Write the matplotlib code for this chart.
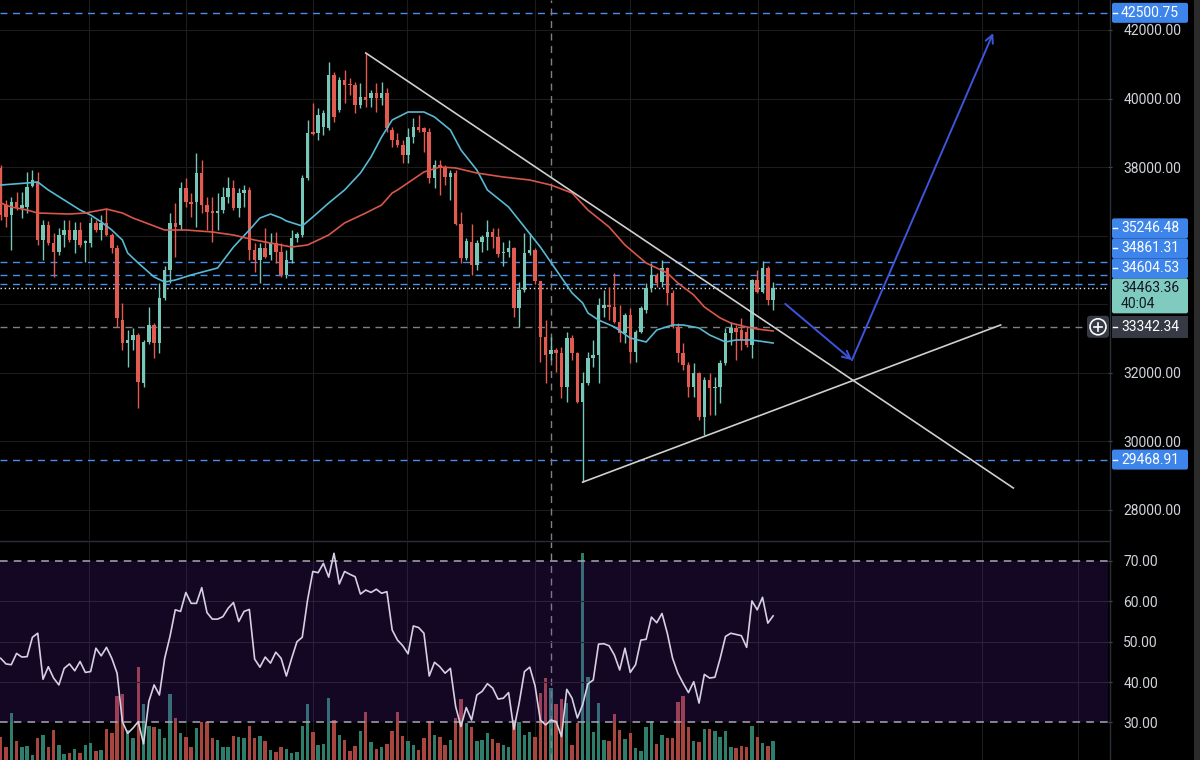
import matplotlib
matplotlib.use('Agg')
from matplotlib import pyplot as plt
from matplotlib.patches import Rectangle, FancyBboxPatch, Circle
import numpy as np

# ---- candles (BTC/USD, 147 bars) ----
opens = [37975, 36895, 36600, 36980, 36810, 36840, 37450, 37570, 35870, 36310,
         35790, 35530, 36020, 36170, 35870, 36170, 35790, 35790, 36370, 36170,
         36370, 36020, 35640, 33540, 32870, 32960, 33100, 31700, 32900, 33400,
         32870, 34180, 35000, 36370, 36310, 37390, 36980, 36980, 37830, 36900,
         36720, 36660, 36750, 37130, 37390, 36810, 37245, 37330, 35580, 35290,
         35640, 35440, 35790, 35530, 34850, 35290, 35930, 36020, 37680, 39025,
         39000, 39170, 39140, 40690, 39670, 40540, 40420, 40400, 39810, 40045,
         40020, 40160, 40020, 40160, 39080, 38790, 38650, 38350, 38880, 39170,
         39140, 39025, 37680, 38060, 37975, 37710, 37830, 36340, 35350, 35820,
         35145, 35820, 35960, 36110, 35960, 35495, 35530, 35640, 33890, 34420,
         35495, 35580, 34680, 33045, 32550, 32670, 32580, 31590, 33015, 32580,
         31150, 31700, 32430, 32520, 33890, 33980, 33920, 33480, 33160, 33690,
         32610, 33190, 33830, 34470, 34850, 34650, 35060, 34330, 33340, 32580,
         32230, 31590, 31995, 30710, 31790, 31560, 31590, 32290, 33160, 33310,
         33250, 33190, 32810, 34710, 34360, 35060, 34120]
highs = [38060, 37040, 37130, 37275, 37275, 37860, 37920, 37860, 36460, 36430,
         36080, 36225, 36460, 36460, 36400, 36400, 35870, 36545, 36460, 36600,
         36780, 36080, 35730, 34040, 33250, 33310, 33160, 32960, 33920, 33450,
         34620, 35120, 36660, 36950, 37570, 37680, 37245, 38410, 38210, 37130,
         37130, 37245, 37420, 37710, 37620, 37390, 37480, 37420, 35790, 35790,
         36225, 36080, 36110, 35790, 35580, 36170, 36110, 37770, 39375, 39870,
         39725, 39670, 41070, 40775, 40630, 40830, 40600, 40480, 40450, 41330,
         40250, 40450, 40480, 40310, 39170, 39000, 38790, 39140, 39430, 39520,
         39170, 39140, 38210, 38210, 38060, 37920, 37920, 36690, 35930, 36340,
         35870, 36020, 36460, 36225, 36225, 35820, 35870, 35670, 34650, 36080,
         36080, 35640, 34680, 33540, 33045, 32720, 32750, 33190, 33100, 32610,
         32020, 32610, 32960, 34180, 34420, 34500, 34910, 33980, 33745, 33890,
         33250, 33950, 34620, 35200, 34910, 35290, 35090, 34420, 33450, 32870,
         32320, 32290, 32020, 31880, 31995, 31880, 32370, 33310, 33480, 33400,
         33600, 33340, 34740, 35000, 35250, 35120, 34650]
lows = [36460, 36250, 35580, 36750, 36520, 36660, 37420, 35730, 35290, 35730,
        34800, 35440, 35670, 35820, 35495, 35670, 35230, 35670, 36110, 35870,
        35990, 35495, 33340, 32670, 32170, 32670, 30970, 31590, 32840, 32430,
        32580, 34120, 34620, 35380, 36170, 36840, 36545, 36250, 36660, 36170,
        35820, 36170, 36660, 36950, 36750, 36545, 36840, 35290, 34940, 34620,
        35350, 35290, 35200, 34800, 34770, 35200, 35820, 35960, 37620, 38940,
        38790, 38940, 39080, 39320, 39610, 39870, 40100, 39580, 39725, 39750,
        39750, 39610, 39810, 39025, 38590, 38590, 38120, 38120, 38700, 39025,
        38440, 37540, 37390, 37190, 37480, 37040, 36310, 35200, 35290, 34850,
        35000, 35530, 35580, 35640, 35380, 35120, 35380, 33630, 33340, 34360,
        35440, 34590, 32320, 31700, 32370, 32020, 31270, 31150, 32370, 31120,
        28810, 31650, 32170, 31700, 33630, 33540, 33450, 32900, 32870, 32290,
        32320, 33160, 33745, 34360, 34500, 34500, 33980, 33310, 32320, 32080,
        31300, 31300, 30620, 30190, 30770, 30770, 31120, 32230, 32810, 32370,
        32670, 32750, 32430, 34330, 34330, 33980, 33830]
closes = [36600, 36545, 36980, 36840, 36900, 37420, 37620, 35870, 36310, 35790,
          35530, 36020, 36170, 35870, 36170, 35730, 35850, 36370, 36170, 36370,
          36020, 35640, 33600, 32870, 32960, 33100, 31730, 32900, 33400, 32870,
          34180, 35000, 36370, 36250, 37390, 36980, 36920, 37830, 36900, 36690,
          36660, 36720, 37130, 37390, 36810, 37245, 37330, 35580, 35290, 35640,
          35380, 35790, 35530, 34850, 35290, 35930, 36050, 37680, 39000, 38970,
          39520, 39580, 40690, 39460, 40540, 40400, 40390, 39810, 40045, 39960,
          40160, 40020, 40160, 39140, 38790, 38650, 38350, 38880, 39170, 39080,
          39030, 37680, 38060, 37980, 37710, 37830, 36340, 35350, 35850, 35145,
          35790, 35960, 36110, 35960, 35470, 35525, 35640, 33890, 34420, 35495,
          35580, 34680, 33045, 32520, 32670, 32580, 31590, 33015, 32580, 31150,
          31700, 32430, 32520, 33980, 33980, 33920, 33480, 33160, 33690, 32610,
          33190, 33890, 34470, 34850, 34620, 35060, 34330, 33340, 32580, 32230,
          31590, 31995, 30710, 31790, 31560, 31590, 32290, 33160, 33310, 33190,
          32960, 32810, 34710, 34360, 35060, 34120, 34463.36]
volume_k = [23.3, 13.3, 47.3, 19.3, 13.3, 14, 5, 21.7, 25, 13.3,
            30, 15, 5.7, 6.7, 11, 6.7, 15, 17.3, 9.3, 10,
            30.7, 27.3, 64, 65.7, 30, 21.7, 93.3, 56, 34, 33.3,
            31, 21.7, 65.7, 42.3, 26.7, 22.7, 12.7, 32.3, 38.3, 38.3,
            22.3, 20, 12.7, 13.3, 24, 23.3, 21.7, 34, 21.7, 24,
            19.3, 10, 8.3, 13.3, 10.7, 6.7, 8.3, 34, 55.7, 27.7,
            15, 16, 61.7, 40, 25, 20, 9, 14.3, 29.3, 48.3,
            17.7, 11, 13.3, 15.7, 29.3, 48.3,
            24, 19.3, 15, 10, 21.7, 39.3, 25, 22.7, 15, 20,
            41.7, 61, 36.7, 33.3, 19.3, 20, 27.3, 21, 16.7, 15,
            12.7, 40, 38.3, 25, 28.3, 22.7, 67.3, 81.7, 71.7, 55.7,
            61, 56.7, 15, 36.7, 206.7, 82.7, 28.3, 57.3, 20, 19.3,
            45.7, 30, 20.7, 27.3, 12.3, 9.3, 33.3, 39.3, 16, 25,
            22.3, 22.3, 58.3, 64, 32.7, 19, 18.3, 30.7, 30.7, 29,
            23.3, 29, 13.3, 12.3, 14, 13.3, 34, 23.3, 17.3, 14, 19]
rsi = [45.9, 44.5, 44.3, 47.1, 46.2, 46.3, 51.1, 52.1, 40.7, 43.8,
       41.0, 39.3, 43.4, 44.5, 42.8, 45.1, 42.4, 42.6, 48.4, 46.5,
       48.6, 45.9, 42.2, 30.2, 27.3, 28.6, 30.2, 24.7, 35.2, 39.3,
       36.8, 45.9, 51.3, 57.9, 57.5, 62.2, 59.5, 59.5, 63.4, 57.2,
       55.6, 55.6, 56.2, 58.3, 59.7, 55.0, 57.5, 58.0, 45.7, 43.7,
       46.2, 44.7, 47.4, 45.9, 41.5, 45.9, 50.0, 51.1, 60.3, 67.4,
       67.1, 69.4, 66.0, 71.9, 64.3, 67.4, 66.7, 66.1, 61.8, 62.8,
       62.2, 63.0, 62.0, 62.4, 52.9, 50.4, 49.0,
       47.0, 53.9, 53.5, 52.1, 41.5, 44.9, 43.8, 42.2, 43.4, 33.9,
       29.0, 33.7, 30.6, 36.8, 37.7, 39.6, 38.5, 35.8, 36.0, 37.4,
       28.3, 34.8, 42.6, 43.7, 39.1, 30.6, 29.4, 30.6, 30.2, 26.5,
       38.2, 36.0, 31.1, 34.4, 39.6, 40.5, 49.4, 49.5, 49.0, 46.7,
       43.0, 48.4, 42.4, 44.3, 50.4, 50.6, 56.1, 54.7, 57.0, 52.1,
       45.9, 42.2, 39.7, 37.4, 40.1, 34.8, 41.9, 41.0, 41.2, 45.9,
       51.3, 52.1, 51.8, 51.5, 48.6, 60.1, 57.9, 61.0, 54.6, 56.4]

# moving averages (bar index, price)
ma_fast_idx = [0, 5, 7, 9, 12, 15, 17, 19, 21, 23, 24, 26, 29, 31, 33, 36, 41, 44, 47, 49,
               51, 53, 54, 57, 59, 62, 65, 68, 70, 72, 74, 77, 80, 82, 85, 87, 90, 92, 96, 99,
               102, 105, 108, 110, 111, 113, 116, 119, 122, 124, 127, 129, 132, 134, 137, 139, 142, 146]
ma_fast = [37478, 37537, 37566, 37333, 37041, 36749, 36603, 36400, 36166, 35874, 35495, 35203,
           34795, 34649, 34707, 34853, 35058, 35670, 36166, 36516, 36632, 36516, 36429, 36283,
           36545, 36953, 37333, 37828, 38296, 38879, 39375, 39608, 39608, 39462, 39083, 38500,
           37916, 37333, 36837, 36254, 35670, 34999, 34328, 34036, 33745, 33541, 33337, 33015,
           32899, 33249, 33395, 33395, 33308, 33103, 32899, 32957, 32957, 32869]
ma_slow_idx = [0, 2, 5, 7, 13, 16, 20, 23, 25, 31, 35, 40, 44, 48, 51, 55, 58, 62, 65, 69,
               72, 74, 75, 80, 83, 86, 90, 95, 100, 104, 108, 111, 115, 118, 122, 126, 128, 131,
               133, 136, 138, 141, 143, 146]
ma_slow = [36953, 36837, 36749, 36661, 36632, 36661, 36778, 36661, 36516, 36166, 36166, 36108,
           36020, 35874, 35786, 35670, 35728, 36020, 36371, 36661, 36895, 37245, 37333, 37858,
           38004, 37975, 37828, 37712, 37624, 37478, 37245, 36749, 36254, 35728, 35203, 34912,
           34619, 34270, 33920, 33599, 33453, 33337, 33278, 33220]

# drawings
level_prices = [42500.75, 35246.48, 34861.31, 34604.53, 29468.91]
last_price = 34463.36
countdown = '40:04'
cross_price = 33342.34
cross_bar = 104
trend_down = [(69, 41330), (191.4, 28640)]
trend_up = [(110, 28810), (189, 33395)]
arrow_1 = [(148.3, 34010), (160.9, 32370)]
arrow_2 = [(160.9, 32370), (187.6, 41910)]
week_lines = [16.7, 35, 59, 76.8, 101, 119, 143.2, 161.3, 185.5, 203.7]
price_grid = [28000, 30000, 32000, 34000, 36000, 38000, 40000, 42000]
price_labels = [28000, 30000, 32000, 38000, 40000, 42000]   # 34000/36000 sit under the boxes

# colours
BG = '#000000'
UP, DOWN = '#76c7b7', '#e25b50'
UP_VOL, DOWN_VOL = '#2f7d6b', '#a9453f'
GRID = '#1c1c1c'
LEVEL = '#4a8ef0'
BOX = '#3d85eb'
TXT = '#d1d4dc'

plt.rcParams['font.family'] = ['Roboto', 'DejaVu Sans']

W, H = 1200, 760
fig = plt.figure(figsize=(W / 100, H / 100), dpi=100, facecolor=BG)
ax = fig.add_axes([0, 220 / H, 1108 / W, 540 / H], facecolor=BG)
ax_v = fig.add_axes([0, 0, 1108 / W, 218 / H], facecolor=BG)
ax_r = ax_v.twinx()

xlim = (-0.13, 209.3)
x = np.arange(len(closes))
o, h, l, c = map(np.array, (opens, highs, lows, closes))
up = c >= o
cols = np.where(up, UP, DOWN)

# ---- price pane ----
ax.set_xlim(*xlim)
ax.set_ylim(27123, 42875)
for gx in week_lines:
    ax.axvline(gx, color=GRID, lw=0.8, zorder=0)
    ax_v.axvline(gx, color=GRID, lw=0.8, zorder=0)
for gy in price_grid:
    ax.axhline(gy, color=GRID, lw=0.8, zorder=0)

ax.vlines(x, l, h, colors=cols, lw=1.0, zorder=3)
body = np.maximum(np.abs(c - o), 25)
ax.bar(x, body, bottom=np.minimum(o, c), width=0.66, color=cols, lw=0, zorder=4)

ax.plot(ma_fast_idx, ma_fast, color='#58b9d3', lw=1.2, zorder=5)
ax.plot(ma_slow_idx, ma_slow, color='#d9564a', lw=1.2, zorder=5)

for lv in level_prices:
    ax.axhline(lv, color=LEVEL, lw=1.0, ls=(0, (5, 4)), zorder=2)
ax.axhline(last_price, color='#d8e8e4', lw=1.0, ls=(0, (1, 2)), zorder=2)
ax.axhline(cross_price, xmax=1086 / 1108, color='#808080', lw=1.0, ls=(0, (5, 4)), zorder=2)
ax.axvline(cross_bar, color='#808080', lw=1.0, ls=(0, (5, 4)), zorder=2)

for seg in (trend_down, trend_up):
    ax.plot([p[0] for p in seg], [p[1] for p in seg], color='#cfcfcf', lw=1.2, zorder=6)
for seg in (arrow_1, arrow_2):
    ax.annotate('', xy=seg[1], xytext=seg[0],
                arrowprops=dict(arrowstyle='->', color='#3d55dc', lw=1.4, mutation_scale=14,
                                shrinkA=0, shrinkB=0), zorder=7)

ax.yaxis.tick_right()
ax.set_yticks(price_labels)
ax.tick_params(axis='y', colors='#555555', labelcolor=TXT, length=3, pad=8, labelsize=10)
ax.yaxis.set_major_formatter(matplotlib.ticker.StrMethodFormatter('{x:.2f}'))
ax.tick_params(axis='x', bottom=False, labelbottom=False)
for s in ax.spines.values():
    s.set_visible(False)

# ---- RSI / volume pane ----
ax_v.set_xlim(*xlim)
ax_v.set_ylim(0, 218)
ax_v.bar(x, volume_k, width=0.65, color=np.where(up, UP_VOL, DOWN_VOL), lw=0, zorder=2)
ax_v.tick_params(left=False, labelleft=False, bottom=False, labelbottom=False)
ax_v.axvline(cross_bar, color='#8a8a8a', lw=1.0, ls=(0, (5, 4)), zorder=3)

ax_r.set_ylim(20.7, 74.7)
ax_r.axhspan(30, 70, color='#6028b0', alpha=0.2, lw=0, zorder=1)
for g in (40, 50, 60):
    ax_r.axhline(g, color='#2a2236', lw=0.8, zorder=1)
for g in (30, 70):
    ax_r.axhline(g, color='#a8a8b0', lw=1.1, ls=(0, (5, 4)), zorder=2)
ax_r.plot(x, rsi, color='#d6d0e3', lw=1.2, zorder=3)
ax_r.set_yticks([30, 40, 50, 60, 70])
ax_r.yaxis.set_major_formatter(matplotlib.ticker.StrMethodFormatter('{x:.2f}'))
ax_r.tick_params(axis='y', colors='#555555', labelcolor=TXT, length=3, pad=8, labelsize=10)
for a in (ax_v, ax_r):
    for s in a.spines.values():
        s.set_visible(False)

# ---- overlay: price scale labels ----
ov = fig.add_axes([0, 0, 1, 1])
ov.set_xlim(0, W)
ov.set_ylim(H, 0)
ov.axis('off')
ov.patch.set_alpha(0)


def ypix(price):
    return H - ax.transData.transform((0, price))[1]


def price_box(yc, text, fc, tc='white'):
    ov.add_patch(FancyBboxPatch((1112, yc - 10), 76, 20, boxstyle='round,pad=0,rounding_size=2',
                                fc=fc, ec='none'))
    ov.plot([1113, 1117], [yc, yc], color=tc, lw=1)
    ov.text(1121, yc, text, color=tc, fontsize=10, va='center')


ov.plot([1110, 1110], [0, H], color='#2a2e39', lw=1)
ov.plot([0, 1110], [541, 541], color='#2a2e39', lw=1)
ov.add_patch(Rectangle((1194, 0), 6, H, color='#2b2b2b', lw=0))

# current price label is fixed, the blue ones stack above / sit below it
last_y = ypix(last_price)
top = last_y - 10
ov.add_patch(FancyBboxPatch((1112, top), 76, 35, boxstyle='round,pad=0,rounding_size=2',
                            fc='#80cbbf', ec='none'))
ov.text(1121, last_y, f'{last_price:.2f}', color='#131722', fontsize=10, va='center')
ov.text(1121, last_y + 16, countdown, color='#131722', fontsize=10, va='center')

for p in sorted([q for q in level_prices if q > last_price]):
    yc = ypix(p) if p > 40000 else min(ypix(p), top - 10)
    price_box(yc, f'{p:.2f}', BOX)
    top = yc - 10
for p in [q for q in level_prices if q < last_price]:
    price_box(ypix(p), f'{p:.2f}', BOX)

cy = ypix(cross_price)
ov.add_patch(Rectangle((1112, cy - 11), 76, 22, fc='#363a45', ec='none'))
ov.plot([1113, 1117], [cy, cy], color='white', lw=1)
ov.text(1121, cy, f'{cross_price:.2f}', color='white', fontsize=10, va='center')
ov.add_patch(FancyBboxPatch((1087, cy - 11), 22, 22, boxstyle='round,pad=0,rounding_size=3',
                            fc='#363a45', ec='none'))
ov.add_patch(Circle((1098, cy), 8, fc='none', ec='white', lw=1.2))
ov.plot([1094, 1102], [cy, cy], color='white', lw=1.2)
ov.plot([1098, 1098], [cy - 4, cy + 4], color='white', lw=1.2)

fig.savefig('out.png', dpi=100, facecolor=BG)
